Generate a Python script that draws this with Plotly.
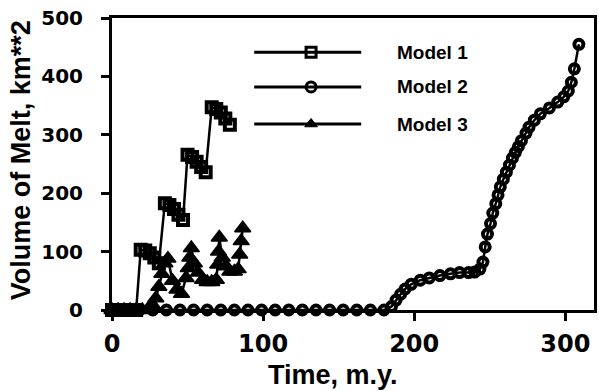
import plotly.graph_objects as go

# Model 1: step-like growth in four pulses
m1_time = [0, 4, 8, 12, 16, 19, 22, 25, 28, 31, 35, 38, 41, 44, 47,
           50, 53, 56, 59, 62, 66, 69, 72, 75, 78]
m1_melt = [0, 0, 0, 0, 0, 103, 102, 97, 90, 80, 183, 180, 173, 163, 154,
           266, 262, 254, 245, 236, 347, 344, 338, 328, 317]

# Model 2: long quiet interval, then two growth stages
m2_time = [0, 9, 18, 27, 36, 45, 54, 63, 72, 81, 90, 99, 108, 117, 126,
           135, 144, 153, 162, 171, 180,
           185, 188, 191, 194, 198, 204, 210, 217, 224, 230, 236, 240,
           243.5, 245.5, 247, 248.5, 250.5, 252, 254, 255.5, 257, 259,
           261, 263, 265, 267, 269, 271, 274, 276, 279.5, 283.5, 289.5,
           295, 299, 302, 304, 306, 309]
m2_melt = [0, 0, 0, 0, 0, 0, 0, 0, 0, 0, 0, 0, 0, 0, 0,
           0, 0, 0, 0, 0, 0,
           6, 17, 27, 36, 44, 51, 55, 59, 62, 64, 64, 65,
           70, 82, 108, 130, 148, 166, 182, 197, 211, 224,
           236, 248, 260, 270, 280, 290, 303, 313, 325, 336, 346,
           356, 365, 375, 390, 413, 455]

# Model 3: saw-tooth pulses of melt
m3_time = [0, 4, 8, 12, 16, 20, 24, 27, 29, 31, 33, 35, 37,
           40, 43, 46, 49, 50.5, 51.5, 52.5, 54.5, 57, 60, 63, 66, 69,
           70, 70.5, 71, 73, 75.5, 78, 81, 83.5, 84.5, 85.5, 86.5]
m3_melt = [0, 0, 0, 0, 0, 0, 2, 8, 20, 40, 62, 80, 88,
           50, 35, 28, 55, 72, 90, 106, 80, 64, 52, 48, 48, 52,
           78, 100, 124, 90, 75, 66, 66, 70, 95, 118, 140]

series_names = ["Model 1", "Model 2", "Model 3"]
x_ticks = [0, 100, 200, 300]
y_ticks = [0, 100, 200, 300, 400, 500]

styles = [
    dict(symbol="square-open", size=10, color="black",
         line=dict(width=4, color="black")),
    dict(symbol="circle-open", size=9, color="black",
         line=dict(width=4, color="black")),
    dict(symbol="triangle-up", size=14, color="black",
         line=dict(width=1.5, color="black")),
]

fig = go.Figure()
for name, xs, ys, mk in zip(series_names,
                            [m1_time, m2_time, m3_time],
                            [m1_melt, m2_melt, m3_melt], styles):
    fig.add_trace(go.Scatter(
        x=xs, y=ys, mode="lines+markers", name=name,
        line=dict(color="black", width=2.5), marker=mk,
        cliponaxis=False, showlegend=False,
    ))

# Hand-drawn key on an overlay axis spanning the plot area (0..1)
key_x0, key_x1, key_xm = 0.295, 0.517, 0.413
key_rows = [0.883, 0.764, 0.637]
key_marks = [
    dict(symbol="square-open", size=10, color="black",
         line=dict(width=3, color="black")),
    dict(symbol="circle-open", size=10, color="black",
         line=dict(width=3, color="black")),
    dict(symbol="triangle-up", size=11, color="black",
         line=dict(width=1, color="black")),
]
for name, yk, mk in zip(series_names, key_rows, key_marks):
    fig.add_trace(go.Scatter(
        x=[key_x0, key_xm, key_x1], y=[yk, yk, yk], mode="lines",
        line=dict(color="black", width=3), xaxis="x2", yaxis="y2",
        showlegend=False, hoverinfo="skip",
    ))
    fig.add_trace(go.Scatter(
        x=[key_xm], y=[yk], mode="markers",
        marker=mk, xaxis="x2", yaxis="y2",
        showlegend=False, hoverinfo="skip",
    ))
    fig.add_annotation(
        x=0.588, y=yk, xref="x2", yref="y2", text=name, showarrow=False,
        xanchor="left", yanchor="middle",
        font=dict(family="Liberation Sans", size=19, color="black",
                  weight="bold"),
    )

title_font = dict(family="Liberation Sans", size=27, color="black",
                  weight="bold")
fig.add_annotation(x=0.458, y=-0.222, xref="paper", yref="paper",
                   text="Time, m.y.", showarrow=False,
                   xanchor="center", yanchor="middle", font=title_font)
fig.add_annotation(x=-0.19, y=0.514, xref="paper", yref="paper",
                   text="Volume of Melt, km**2", showarrow=False,
                   textangle=-90, xanchor="center", yanchor="middle",
                   font=title_font)

axis_common = dict(
    showgrid=False, zeroline=False, showline=True, linecolor="black",
    linewidth=3, mirror=True, ticks="outside", ticklen=8, tickwidth=3,
    tickcolor="black",
)

fig.update_layout(
    width=599, height=391,
    margin=dict(l=112, r=2, t=18, b=81),
    paper_bgcolor="white", plot_bgcolor="white",
    xaxis=dict(range=[0, 319], tickvals=x_ticks, ticklabelstandoff=2,
               tickfont=dict(family="DejaVu Sans", size=24, color="black",
                             weight="bold"),
               **axis_common),
    yaxis=dict(range=[0, 500], tickvals=y_ticks, ticklabelstandoff=14,
               tickfont=dict(family="DejaVu Sans", size=20, color="black",
                             weight="bold"),
               **axis_common),
    xaxis2=dict(range=[0, 1], overlaying="x", visible=False, anchor="y2"),
    yaxis2=dict(range=[0, 1], overlaying="y", visible=False, anchor="x2"),
)

fig.write_html("out.html")
